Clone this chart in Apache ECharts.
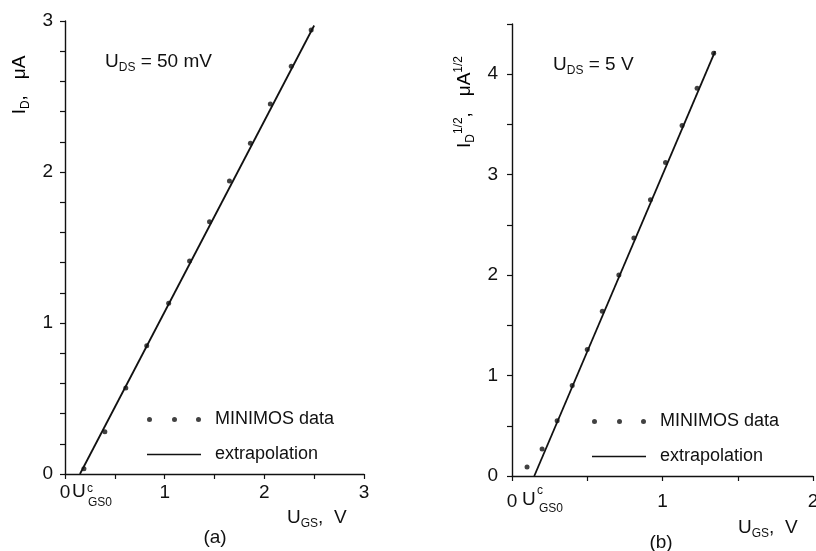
<!DOCTYPE html>
<html>
<head>
<meta charset="utf-8">
<script src="https://cdn.jsdelivr.net/npm/echarts@6/dist/echarts.min.js"></script>
<style>
  html, body { margin: 0; padding: 0; background: #fff; }
  #chart { width: 816px; height: 551px; }
</style>
</head>
<body>
<div id="chart"></div>
<script>
// (a) U_DS = 50 mV : I_D vs U_GS
const aUgs = [0.19, 0.40, 0.61, 0.82, 1.04, 1.25, 1.45, 1.65, 1.86, 2.06, 2.27, 2.47];
const aId = [0.035, 0.28, 0.57, 0.85, 1.13, 1.41, 1.67, 1.94, 2.19, 2.45, 2.70, 2.94];
const aFitUgs = [0.15, 2.50];
const aFitId = [0, 2.97];

// (b) U_DS = 5 V : sqrt(I_D) vs U_GS
const bUgs = [0.10, 0.20, 0.30, 0.40, 0.50, 0.60, 0.71, 0.81, 0.92, 1.02, 1.13, 1.23, 1.34];
const bSqrtId = [0.09, 0.27, 0.55, 0.90, 1.26, 1.64, 2.00, 2.37, 2.75, 3.12, 3.49, 3.86, 4.21];
const bFitUgs = [0.148, 1.35];
const bFitSqrtId = [0, 4.23];

const ink = '#111';
const font = 'Liberation Sans';

const zip = (xs, ys) => xs.map((x, i) => [x, ys[i]]);
const intOnly = v => Math.abs(v - Math.round(v)) < 1e-6 ? String(Math.round(v)) : '';

const rich = {
  b: { fontFamily: font, fontSize: 19, color: ink, lineHeight: 24 },
  sub: { fontFamily: font, fontSize: 12, color: ink, verticalAlign: 'bottom', lineHeight: 12 },
  sup: { fontFamily: font, fontSize: 12, color: ink, verticalAlign: 'top', lineHeight: 12 }
};

function axis(gridIndex, max, interval, margin) {
  return {
    type: 'value', gridIndex: gridIndex, min: 0, max: max, interval: interval,
    axisLine: { show: true, onZero: false, lineStyle: { color: ink, width: 1.4 } },
    axisTick: { show: true, length: 5, lineStyle: { color: ink, width: 1.2 } },
    axisLabel: { formatter: intOnly, color: ink, fontFamily: font, fontSize: 19, margin: margin, showMaxLabel: true },
    splitLine: { show: false }
  };
}

function text(x, y, str, extra) {
  return Object.assign({
    type: 'text', x: x, y: y, silent: true,
    style: { text: str, rich: rich, fill: ink, font: '19px ' + font, verticalAlign: 'middle' }
  }, extra || {});
}

function small(x, y, str) {
  return text(x, y, str, { style: { text: str, fill: ink, font: '12px ' + font, verticalAlign: 'middle' } });
}

function legendFor(left, top) {
  return {
    orient: 'vertical', left: left, top: top, itemWidth: 54, itemHeight: 5, itemGap: 14,
    selectedMode: false,
    textStyle: { fontFamily: font, fontSize: 18, color: ink, lineHeight: 21, padding: [0, 0, 0, 9] },
    data: [
      { name: 'MINIMOS data', icon: 'path://M0,2.5a2.5,2.5 0 1,0 5,0a2.5,2.5 0 1,0 -5,0ZM25,2.5a2.5,2.5 0 1,0 5,0a2.5,2.5 0 1,0 -5,0ZM49,2.5a2.5,2.5 0 1,0 5,0a2.5,2.5 0 1,0 -5,0Z' },
      { name: 'extrapolation', icon: 'path://M0,0H54V1.6H0Z' }
    ]
  };
}

const chart = echarts.init(document.getElementById('chart'), null, { renderer: 'canvas' });
chart.setOption({
  backgroundColor: '#fff',
  animation: false,
  grid: [
    { left: 65, top: 21, width: 299, height: 453, outerBoundsMode: 'none' },
    { left: 512, top: 24, width: 301, height: 452, outerBoundsMode: 'none' }
  ],
  xAxis: [axis(0, 3, 0.5, 9), axis(1, 2, 0.5, 16)],
  yAxis: [axis(0, 3, 0.2, 12), axis(1, 4.5, 0.5, 14)],
  legend: [legendFor(142, 404), legendFor(587, 406)],
  series: [
    { name: 'MINIMOS data', type: 'scatter', xAxisIndex: 0, yAxisIndex: 0, data: zip(aUgs, aId),
      symbolSize: 5, itemStyle: { color: ink } },
    { name: 'extrapolation', type: 'line', xAxisIndex: 0, yAxisIndex: 0, data: zip(aFitUgs, aFitId),
      symbol: 'none', lineStyle: { color: ink, width: 1.8 }, itemStyle: { color: ink } },
    { name: 'MINIMOS data', type: 'scatter', xAxisIndex: 1, yAxisIndex: 1, data: zip(bUgs, bSqrtId),
      symbolSize: 5, itemStyle: { color: ink } },
    { name: 'extrapolation', type: 'line', xAxisIndex: 1, yAxisIndex: 1, data: zip(bFitUgs, bFitSqrtId),
      symbol: 'none', lineStyle: { color: ink, width: 1.8 }, itemStyle: { color: ink } }
  ],
  graphic: [
    // axis names
    text(20, 85, '', { rotation: Math.PI / 2, style: { text: '{b|I}{sub|D}{b|,   μA}', rich: rich, align: 'center', verticalAlign: 'middle' } }),
    text(465, 102, '', { rotation: Math.PI / 2, style: { text: '{b|I}{sub|D}{sup|1/2}{b|,   μA}{sup|1/2}', rich: rich, align: 'center', verticalAlign: 'middle' } }),
    text(287, 518, '{b|U}{sub|GS}{b|,  V}'),
    text(738, 528, '{b|U}{sub|GS}{b|,  V}'),
    // conditions
    text(105, 62, '{b|U}{sub|DS}{b| = 50 mV}'),
    text(553, 65, '{b|U}{sub|DS}{b| = 5 V}'),
    // threshold markers under the x axes
    text(72, 492, 'U'), small(87, 489, 'c'), small(88, 503, 'GS0'),
    text(522, 500, 'U'), small(537, 491, 'c'), small(539, 509, 'GS0'),
    // panel captions
    text(215, 538, '', { style: { text: '(a)', fill: ink, font: '19px ' + font, align: 'center', verticalAlign: 'middle' } }),
    text(661, 543, '', { style: { text: '(b)', fill: ink, font: '19px ' + font, align: 'center', verticalAlign: 'middle' } })
  ]
});
</script>
</body>
</html>
